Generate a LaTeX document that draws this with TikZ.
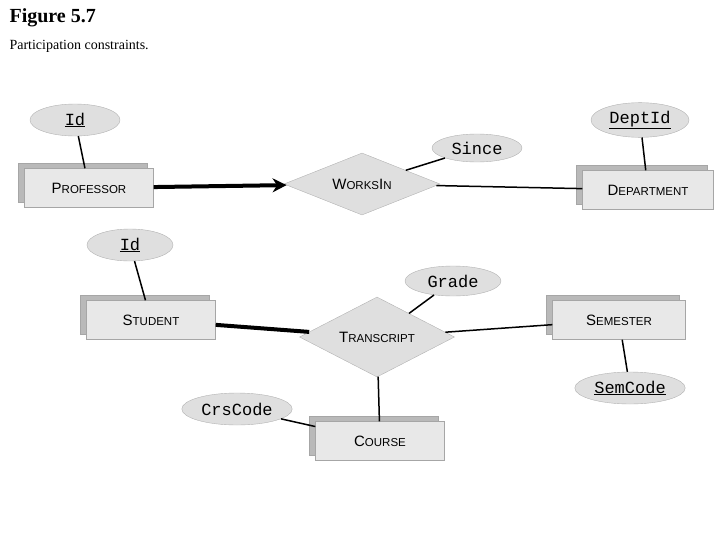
\documentclass[tikz,border=0pt]{standalone}
\usepackage{fontspec}
\setmainfont{Liberation Serif}
\setsansfont{Liberation Sans}
\setmonofont{Liberation Mono}
\usetikzlibrary{shapes.geometric,shadows,arrows.meta}
\newcommand{\ecap}[2]{{\sffamily\fontsize{15}{15}\selectfont #1\fontsize{11.5}{12}\selectfont #2}}
\tikzset{
  entity/.style={draw=gray!70,fill=gray!18,minimum width=129pt,minimum height=39pt,
    copy shadow={shadow xshift=-6pt,shadow yshift=5pt,fill=gray!55,draw=gray!70}},
  attr/.style={ellipse,draw=gray!60,fill=gray!25,minimum height=32pt,
    font=\ttfamily\fontsize{17}{17}\selectfont},
  rel/.style={diamond,draw=gray!60,fill=gray!25,aspect=2.4,inner sep=1pt},
  link/.style={line width=1.5pt},
  heavy/.style={line width=4pt}
}
\begin{document}
\begin{tikzpicture}[x=1pt,y=-1pt]
\useasboundingbox (0,0) rectangle (728,546);
\node[anchor=west,font=\bfseries\fontsize{20}{20}\selectfont] (title) at (6,18) {Figure 5.7};
\node[anchor=west,font=\fontsize{14}{14}\selectfont] (caption) at (6,46) {Participation constraints.};
% top part
\node[entity] (prof) at (89,188) {\ecap{P}{ROFESSOR}};
\node[rel,minimum width=156pt,minimum height=62pt] (works) at (362,184) {\ecap{W}{ORKS}\ecap{I}{N}};
\node[entity,minimum width=131pt] (dept) at (648,190) {\ecap{D}{EPARTMENT}};
\node[attr,minimum width=90pt] (pid) at (75,120) {\underline{Id}};
\node[attr,minimum width=90pt,minimum height=28pt] (since) at (477,148) {Since};
\node[attr,minimum width=98pt] (deptid) at (640,120) {\underline{DeptId}};
\draw[heavy,-{Stealth[length=14pt,width=14pt]}] (prof) -- (works);
\draw[link] (works) -- (dept);
\draw[link] (pid) -- (prof);
\draw[link] (since) -- (works);
\draw[link] (deptid) -- (dept);
% bottom part
\node[entity] (stud) at (151,320) {\ecap{S}{TUDENT}};
\node[rel,minimum width=155pt,minimum height=80pt] (trans) at (377,337) {\ecap{T}{RANSCRIPT}};
\node[entity,minimum width=133pt] (sem) at (619,320) {\ecap{S}{EMESTER}};
\node[entity] (course) at (380,441) {\ecap{C}{OURSE}};
\node[attr,minimum width=86pt] (sid) at (130,245) {\underline{Id}};
\node[attr,minimum width=96pt,minimum height=30pt] (grade) at (453,281) {Grade};
\node[attr,minimum width=94pt] (semcode) at (630,388) {\underline{SemCode}};
\node[attr,minimum width=94pt] (crscode) at (237,409) {CrsCode};
\draw[heavy] (stud) -- (trans);
\draw[link] (trans) -- (sem);
\draw[link] (trans) -- (course);
\draw[link] (sid) -- (stud);
\draw[link] (grade) -- (trans);
\draw[link] (semcode) -- (sem);
\draw[link] (crscode) -- (course);
\end{tikzpicture}
\end{document}
